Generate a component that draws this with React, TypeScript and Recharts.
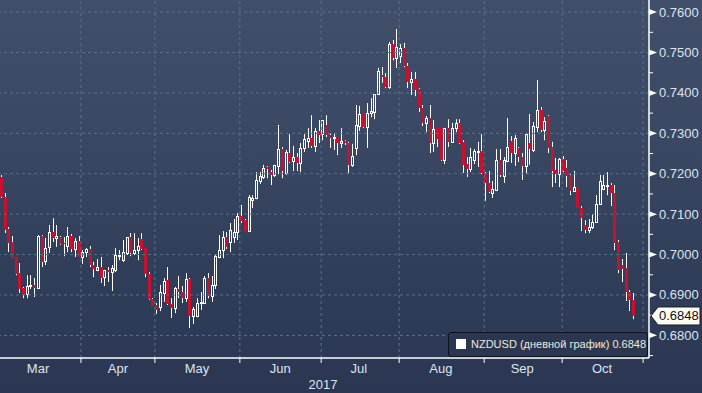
import React from 'react';
import { ComposedChart, Bar, XAxis, YAxis, ReferenceLine } from 'recharts';

// Daily NZDUSD candles, late Feb – mid Oct 2017
const opens = [
  0.7192, 0.7142, 0.7063, 0.7031, 0.6994, 0.6954, 0.6917, 0.6902, 0.6922, 0.6925,
  0.6917, 0.7046, 0.6984, 0.7019, 0.7056, 0.7041, 0.7043, 0.7029, 0.7021, 0.7046,
  0.7014, 0.7034, 0.6994, 0.7006, 0.7014, 0.6974, 0.6962, 0.6969, 0.6944, 0.6962,
  0.6957, 0.6962, 0.6996, 0.6986, 0.7004, 0.7043, 0.7004, 0.7011, 0.7038, 0.7016,
  0.6952, 0.6890, 0.6875, 0.6870, 0.6905, 0.6937, 0.6878, 0.6868, 0.6915, 0.6907,
  0.6892, 0.6939, 0.6848, 0.6848, 0.6880, 0.6880, 0.6942, 0.6897, 0.6925, 0.6994,
  0.7011, 0.7043, 0.7031, 0.7043, 0.7056, 0.7095, 0.7085, 0.7058, 0.7135, 0.7140,
  0.7182, 0.7192, 0.7217, 0.7204, 0.7197, 0.7219, 0.7261, 0.7202, 0.7251, 0.7232,
  0.7241, 0.7227, 0.7264, 0.7281, 0.7288, 0.7269, 0.7306, 0.7298, 0.7321, 0.7296,
  0.7288, 0.7291, 0.7276, 0.7281, 0.7276, 0.7222, 0.7264, 0.7318, 0.7348, 0.7316,
  0.7350, 0.7353, 0.7397, 0.7444, 0.7439, 0.7415, 0.7521, 0.7486, 0.7491, 0.7511,
  0.7467, 0.7427, 0.7434, 0.7410, 0.7363, 0.7326, 0.7338, 0.7276, 0.7313, 0.7313,
  0.7234, 0.7313, 0.7279, 0.7313, 0.7326, 0.7279, 0.7224, 0.7212, 0.7234, 0.7254,
  0.7256, 0.7202, 0.7177, 0.7152, 0.7160, 0.7234, 0.7194, 0.7232, 0.7281, 0.7251,
  0.7264, 0.7241, 0.7219, 0.7276, 0.7259, 0.7316, 0.7358, 0.7308, 0.7343, 0.7266,
  0.7209, 0.7199, 0.7236, 0.7214, 0.7197, 0.7157, 0.7167, 0.7115, 0.7073, 0.7061,
  0.7068, 0.7081, 0.7125, 0.7162, 0.7170, 0.7172, 0.7152, 0.7031, 0.6974, 0.6967,
  0.6907, 0.6888,
];

const highs = [
  0.7197, 0.7152, 0.7068, 0.7046, 0.6994, 0.6979, 0.6920, 0.6949, 0.6949, 0.6942,
  0.7048, 0.7048, 0.7041, 0.7073, 0.7090, 0.7073, 0.7046, 0.7043, 0.7068, 0.7051,
  0.7041, 0.7046, 0.7011, 0.7016, 0.7021, 0.6982, 0.6989, 0.6994, 0.6962, 0.6969,
  0.6974, 0.7016, 0.7011, 0.7036, 0.7043, 0.7053, 0.7053, 0.7041, 0.7053, 0.7016,
  0.6957, 0.6892, 0.6880, 0.6925, 0.6942, 0.6969, 0.6892, 0.6920, 0.6947, 0.6922,
  0.6954, 0.6942, 0.6870, 0.6892, 0.6907, 0.6947, 0.6954, 0.6947, 0.6999, 0.7048,
  0.7058, 0.7056, 0.7078, 0.7088, 0.7103, 0.7123, 0.7088, 0.7147, 0.7147, 0.7204,
  0.7204, 0.7222, 0.7219, 0.7209, 0.7222, 0.7321, 0.7266, 0.7259, 0.7298, 0.7269,
  0.7251, 0.7276, 0.7298, 0.7313, 0.7345, 0.7313, 0.7333, 0.7333, 0.7345, 0.7301,
  0.7301, 0.7291, 0.7313, 0.7283, 0.7279, 0.7274, 0.7370, 0.7368, 0.7348, 0.7375,
  0.7387, 0.7397, 0.7462, 0.7464, 0.7449, 0.7526, 0.7531, 0.7558, 0.7521, 0.7524,
  0.7474, 0.7452, 0.7452, 0.7412, 0.7370, 0.7343, 0.7370, 0.7333, 0.7313, 0.7313,
  0.7313, 0.7335, 0.7326, 0.7335, 0.7335, 0.7283, 0.7241, 0.7264, 0.7261, 0.7279,
  0.7298, 0.7204, 0.7207, 0.7182, 0.7261, 0.7261, 0.7241, 0.7338, 0.7293, 0.7296,
  0.7266, 0.7251, 0.7301, 0.7348, 0.7328, 0.7432, 0.7365, 0.7340, 0.7345, 0.7279,
  0.7239, 0.7239, 0.7244, 0.7234, 0.7199, 0.7207, 0.7167, 0.7120, 0.7085, 0.7088,
  0.7100, 0.7147, 0.7197, 0.7197, 0.7204, 0.7177, 0.7172, 0.7036, 0.6989, 0.7004,
  0.6912, 0.6905,
];

const lows = [
  0.7140, 0.7053, 0.7006, 0.6991, 0.6949, 0.6905, 0.6892, 0.6892, 0.6915, 0.6895,
  0.6917, 0.6969, 0.6974, 0.7004, 0.7031, 0.7019, 0.7024, 0.6996, 0.7006, 0.7006,
  0.6994, 0.6994, 0.6977, 0.6994, 0.6969, 0.6944, 0.6959, 0.6930, 0.6922, 0.6932,
  0.6910, 0.6957, 0.6986, 0.6982, 0.6999, 0.6996, 0.6999, 0.6986, 0.7011, 0.6944,
  0.6888, 0.6873, 0.6853, 0.6860, 0.6883, 0.6875, 0.6843, 0.6855, 0.6892, 0.6880,
  0.6883, 0.6818, 0.6828, 0.6845, 0.6863, 0.6878, 0.6892, 0.6883, 0.6915, 0.6991,
  0.6991, 0.7014, 0.7006, 0.7029, 0.7036, 0.7078, 0.7058, 0.7058, 0.7115, 0.7137,
  0.7175, 0.7187, 0.7189, 0.7172, 0.7192, 0.7199, 0.7189, 0.7197, 0.7227, 0.7207,
  0.7207, 0.7204, 0.7254, 0.7264, 0.7264, 0.7254, 0.7276, 0.7283, 0.7291, 0.7264,
  0.7259, 0.7246, 0.7264, 0.7271, 0.7202, 0.7217, 0.7246, 0.7306, 0.7313, 0.7264,
  0.7340, 0.7335, 0.7395, 0.7425, 0.7412, 0.7410, 0.7481, 0.7462, 0.7474, 0.7464,
  0.7412, 0.7395, 0.7392, 0.7353, 0.7318, 0.7303, 0.7251, 0.7254, 0.7266, 0.7232,
  0.7224, 0.7266, 0.7276, 0.7303, 0.7274, 0.7202, 0.7192, 0.7204, 0.7224, 0.7217,
  0.7199, 0.7133, 0.7152, 0.7140, 0.7157, 0.7192, 0.7177, 0.7229, 0.7227, 0.7219,
  0.7229, 0.7185, 0.7199, 0.7222, 0.7254, 0.7303, 0.7303, 0.7283, 0.7251, 0.7167,
  0.7177, 0.7167, 0.7204, 0.7167, 0.7147, 0.7155, 0.7115, 0.7058, 0.7053, 0.7053,
  0.7063, 0.7078, 0.7123, 0.7160, 0.7147, 0.7120, 0.7011, 0.6954, 0.6932, 0.6885,
  0.6860, 0.6840,
];

const closes = [
  0.7142, 0.7061, 0.7029, 0.6991, 0.6952, 0.6915, 0.6900, 0.6922, 0.6925, 0.6917,
  0.7046, 0.6982, 0.7016, 0.7056, 0.7041, 0.7046, 0.7026, 0.7026, 0.7046, 0.7014,
  0.7034, 0.6994, 0.7006, 0.7014, 0.6974, 0.6964, 0.6969, 0.6942, 0.6962, 0.6957,
  0.6967, 0.6999, 0.6999, 0.7006, 0.7043, 0.7004, 0.7011, 0.7021, 0.7014, 0.6952,
  0.6890, 0.6873, 0.6863, 0.6907, 0.6935, 0.6878, 0.6868, 0.6917, 0.6907, 0.6892,
  0.6939, 0.6848, 0.6865, 0.6880, 0.6883, 0.6942, 0.6897, 0.6925, 0.6996, 0.7011,
  0.7043, 0.7019, 0.7061, 0.7056, 0.7095, 0.7083, 0.7058, 0.7142, 0.7140, 0.7185,
  0.7194, 0.7214, 0.7212, 0.7197, 0.7222, 0.7261, 0.7207, 0.7254, 0.7229, 0.7241,
  0.7227, 0.7264, 0.7286, 0.7288, 0.7269, 0.7306, 0.7296, 0.7333, 0.7296, 0.7288,
  0.7291, 0.7276, 0.7281, 0.7276, 0.7222, 0.7244, 0.7321, 0.7348, 0.7316, 0.7350,
  0.7355, 0.7397, 0.7454, 0.7439, 0.7415, 0.7521, 0.7486, 0.7514, 0.7511, 0.7467,
  0.7427, 0.7434, 0.7407, 0.7363, 0.7326, 0.7338, 0.7276, 0.7311, 0.7286, 0.7234,
  0.7313, 0.7279, 0.7313, 0.7326, 0.7276, 0.7222, 0.7212, 0.7241, 0.7256, 0.7256,
  0.7202, 0.7177, 0.7155, 0.7162, 0.7234, 0.7197, 0.7234, 0.7266, 0.7251, 0.7288,
  0.7241, 0.7219, 0.7298, 0.7261, 0.7318, 0.7358, 0.7308, 0.7330, 0.7264, 0.7207,
  0.7199, 0.7236, 0.7207, 0.7194, 0.7157, 0.7167, 0.7115, 0.7090, 0.7061, 0.7068,
  0.7081, 0.7125, 0.7182, 0.7172, 0.7172, 0.7152, 0.7029, 0.6962, 0.6964, 0.6907,
  0.6888, 0.6848,
];

const seriesName = 'NZDUSD (дневной график)';

// x-axis (trading-day index positions)
const monthStarts = [21.6, 41.6, 64.6, 86.6, 107.7, 130.7, 151.8, 173.7];
const monthLabelPos = [10, 31.6, 53, 75.5, 96.8, 119, 141, 162.6];
const monthLabels = ['Mar', 'Apr', 'May', 'Jun', 'Jul', 'Aug', 'Sep', 'Oct'];
const yearLabelPos = 87.1;
const yearLabel = '2017';

// y-axis
const majorTicks = [0.68, 0.69, 0.70, 0.71, 0.72, 0.73, 0.74, 0.75, 0.76];
const minorTicks = [0.675, 0.685, 0.695, 0.705, 0.715, 0.725, 0.735, 0.745, 0.755];

const data = opens.map((o, i) => ({ i, open: o, high: highs[i], low: lows[i], close: closes[i] }));
const lastClose = closes[closes.length - 1];

const W = 702;
const H = 393;
const RED = '#c8112e';
const TXT = '#dde4ee';
const GRID = '#56728b';
const FONT = '"Liberation Sans", Arial, sans-serif';

function Candle(props: any) {
  const { x, y, width, height } = props;
  const p = props.payload || props;
  const { open, close, high, low } = p;
  if (!isFinite(y) || !isFinite(height)) return null;
  const k = high - low > 0 ? height / (high - low) : 0;
  const yOf = (v: number) => y + (high - v) * k;
  const cx = Math.round(x + width / 2);
  const wx = cx + 0.5;
  const top = Math.round(yOf(Math.max(open, close)));
  const bot = Math.round(yOf(Math.min(open, close)));
  const yH = yOf(high);
  const yL = yOf(low);
  if (close >= open) {
    return (
      <g>
        <line x1={wx} x2={wx} y1={yH} y2={top} stroke="#fff" strokeWidth={1} />
        <line x1={wx} x2={wx} y1={bot + 1} y2={yL} stroke="#fff" strokeWidth={1} />
        <rect x={cx - 0.5} y={top + 0.5} width={2} height={Math.max(1, bot - top)} fill="none" stroke="#fff" strokeWidth={1} />
      </g>
    );
  }
  return (
    <g>
      <line x1={wx} x2={wx} y1={yH} y2={yL} stroke="#fff" strokeWidth={1} />
      <rect x={cx - 1} y={top} width={3} height={Math.max(1, bot - top)} fill={RED} />
    </g>
  );
}

function XTick(props: any) {
  const { x, y, payload } = props;
  const v = payload.value;
  if (monthStarts.includes(v)) {
    return <line x1={x} x2={x} y1={y} y2={y + 5} stroke="#fff" strokeWidth={1} />;
  }
  if (v === yearLabelPos) {
    return (
      <text x={x} y={y + 31} textAnchor="middle" fill={TXT} fontSize={13} fontFamily={FONT}>
        {yearLabel}
      </text>
    );
  }
  const idx = monthLabelPos.indexOf(v);
  if (idx < 0) return null;
  return (
    <text x={x} y={y + 15} textAnchor="middle" fill={TXT} fontSize={13} fontFamily={FONT}>
      {monthLabels[idx]}
    </text>
  );
}

function YTick(props: any) {
  const { x, y, payload } = props;
  const v = payload.value;
  if (v === lastClose && !majorTicks.includes(v)) {
    return (
      <g>
        <path d={`M${x + 2},${y} L${x + 9},${y - 9} L${x + 51},${y - 9} L${x + 51},${y + 9} L${x + 9},${y + 9} Z`} fill="#fbfbf6" stroke="#1a1d24" strokeWidth={1} />
        <text x={x + 10} y={y} dominantBaseline="central" fill="#111" fontSize={13} fontFamily={FONT}>
          {v.toFixed(4)}
        </text>
      </g>
    );
  }
  if (majorTicks.includes(v)) {
    return (
      <g>
        <path d={`M${x},${y - 3} L${x + 8},${y} L${x},${y + 3} Z`} fill="#fff" />
        <text x={x + 10} y={y} dominantBaseline="central" fill={TXT} fontSize={13} fontFamily={FONT}>
          {v.toFixed(4)}
        </text>
      </g>
    );
  }
  return <line x1={x} x2={x + 4} y1={y} y2={y} stroke="#fff" strokeWidth={1} />;
}

export default function App() {
  return (
    <div
      style={{
        position: 'fixed',
        left: 0,
        top: 0,
        width: W,
        height: H,
        background: 'linear-gradient(to bottom, #414f6a 0%, #3a4863 35%, #323f5a 65%, #2b3752 100%)',
        overflow: 'hidden',
      }}
    >
      <style>{'body{margin:0;}'}</style>
      <ComposedChart width={W} height={H} data={data} margin={{ top: 0, right: 0, bottom: 0, left: 0 }}>
        <XAxis
          dataKey="i"
          type="number"
          domain={[-0.3, 175.3]}
          allowDataOverflow
          ticks={[...monthStarts, ...monthLabelPos, yearLabelPos]}
          interval={0}
          tick={<XTick />}
          tickLine={false}
          tickSize={0}
          tickMargin={0}
          axisLine={{ stroke: '#fff', strokeWidth: 1.5 }}
          height={35}
        />
        <YAxis
          orientation="right"
          type="number"
          domain={[0.6744, 0.763]}
          allowDataOverflow
          ticks={[...majorTicks, ...minorTicks, lastClose]}
          interval={0}
          tick={<YTick />}
          tickLine={false}
          tickSize={0}
          tickMargin={0}
          axisLine={{ stroke: '#fff', strokeWidth: 1.5 }}
          width={53}
        />
        {majorTicks.map((v) => (
          <ReferenceLine key={'h' + v} y={v} stroke={GRID} strokeDasharray="3 3" strokeWidth={1} />
        ))}
        {monthStarts.map((v) => (
          <ReferenceLine key={'v' + v} x={v} stroke={GRID} strokeDasharray="3 3" strokeWidth={1} />
        ))}
        <Bar dataKey={(d: any) => [d.low, d.high]} barSize={4} shape={Candle} isAnimationActive={false} name={seriesName} />
      </ComposedChart>
      <div
        style={{
          position: 'absolute',
          left: 448,
          top: 332,
          width: 198,
          height: 23,
          border: '1.5px solid #0e1119',
          borderRadius: 3,
          background: '#2b3751',
          boxSizing: 'content-box',
        }}
      >
        <div style={{ position: 'absolute', left: 7, top: 6, width: 10, height: 10, background: '#fff' }} />
        <div
          style={{
            position: 'absolute',
            left: 22,
            top: 0,
            height: 23,
            lineHeight: '23px',
            fontFamily: FONT,
            fontSize: 11,
            color: '#ece8dc',
            whiteSpace: 'nowrap',
          }}
        >
          {seriesName} {lastClose.toFixed(4)}
        </div>
      </div>
    </div>
  );
}
